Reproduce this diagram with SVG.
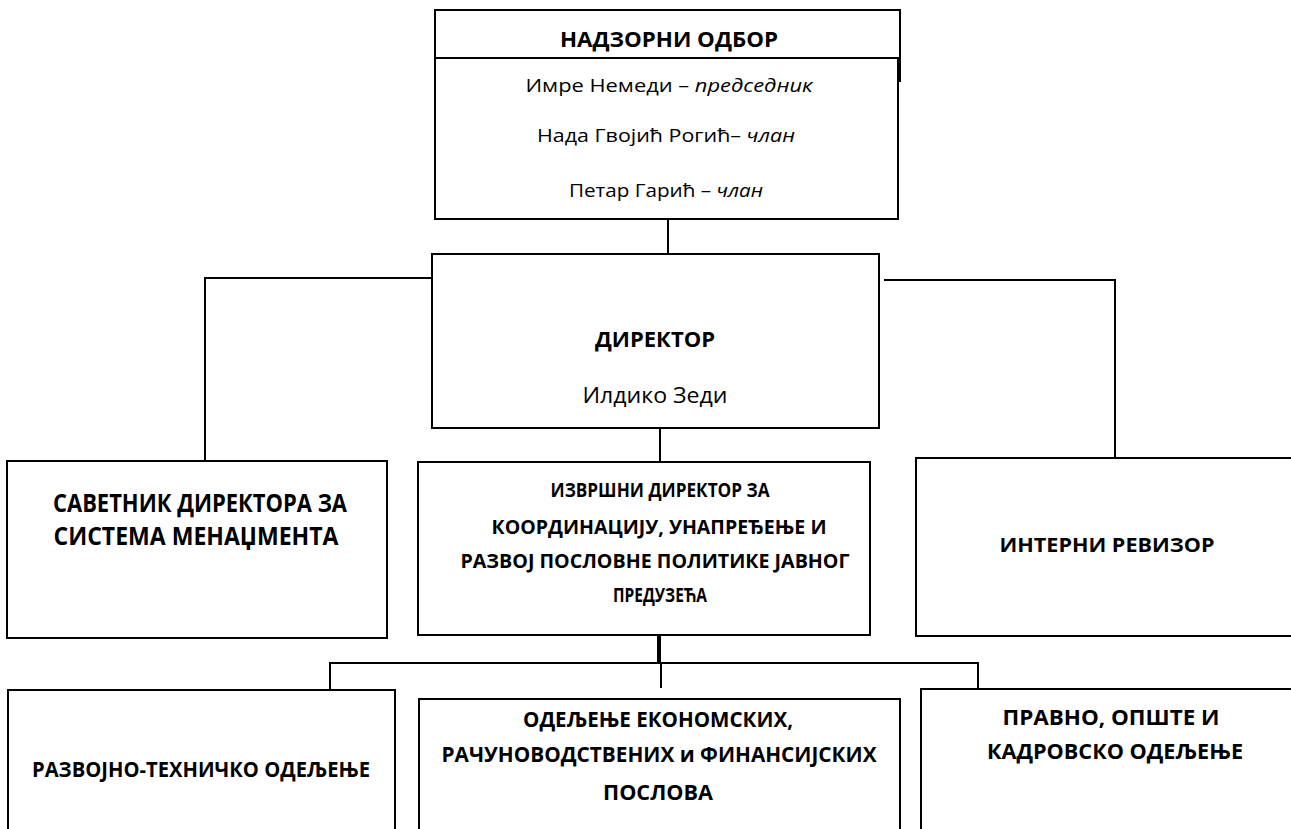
<svg xmlns="http://www.w3.org/2000/svg" width="1291" height="829" viewBox="0 0 1291 829">
<style>
.box{fill:#fff;stroke:#000;stroke-width:2}
.ln{fill:none;stroke:#000;stroke-width:2}
text{font-family:"Open Sans","Noto Sans","DejaVu Sans",sans-serif;fill:#000;text-anchor:middle}
.b{font-weight:bold}
.i{font-style:italic}
</style>
<rect width="1291" height="829" fill="#fff"/>
<g id="connectors">
<line class="ln" x1="668" y1="219" x2="668" y2="254"/>
<polyline class="ln" points="436,278 205,278 205,461"/>
<polyline class="ln" points="884,280 1115,280 1115,458"/>
<line class="ln" x1="660" y1="428" x2="660" y2="462"/>
<line x1="659" y1="636" x2="659" y2="663" stroke="#000" stroke-width="4"/>
<polyline class="ln" points="330,690 330,663 978,663 978,689"/>
<line class="ln" x1="661" y1="663" x2="661" y2="688"/>
</g>
<g id="nadzorni">
<rect class="box" x="435" y="10" width="465" height="48"/>
<line class="ln" x1="900" y1="58" x2="900" y2="82"/>
<rect class="box" x="435" y="58" width="463" height="161"/>
<text class="b" x="669" y="47" font-size="20.5" textLength="218" lengthAdjust="spacingAndGlyphs">НАДЗОРНИ ОДБОР</text>
<text x="669" y="92" font-size="18" textLength="287" lengthAdjust="spacingAndGlyphs">Имре Немеди  – <tspan class="i">председник</tspan></text>
<text x="666" y="142" font-size="18" textLength="258" lengthAdjust="spacingAndGlyphs">Нада Гвојић  Рогић– <tspan class="i">члан</tspan></text>
<text x="666" y="197" font-size="18" textLength="194" lengthAdjust="spacingAndGlyphs">Петар Гарић – <tspan class="i">члан</tspan></text>
</g>
<g id="direktor">
<rect class="box" x="432" y="254" width="447" height="174"/>
<text class="b" x="655" y="347" font-size="20.5" textLength="120" lengthAdjust="spacingAndGlyphs">ДИРЕКТОР</text>
<text x="655" y="403" font-size="21" textLength="145" lengthAdjust="spacingAndGlyphs">Илдико Зеди</text>
</g>
<g id="savetnik">
<rect class="box" x="7" y="461" width="380" height="177"/>
<text class="b" x="200" y="512" font-size="25" textLength="294" lengthAdjust="spacingAndGlyphs">САВЕТНИК ДИРЕКТОРА ЗА</text>
<text class="b" x="196" y="545" font-size="25" textLength="285" lengthAdjust="spacingAndGlyphs">СИСТЕМА МЕНАЏМЕНТА</text>
</g>
<g id="izvrsni">
<rect class="box" x="418" y="462" width="452" height="173"/>
<text class="b" x="660" y="497" font-size="19.5" textLength="219" lengthAdjust="spacingAndGlyphs">ИЗВРШНИ ДИРЕКТОР ЗА</text>
<text class="b" x="659" y="534" font-size="19.5" textLength="335" lengthAdjust="spacingAndGlyphs">КООРДИНАЦИЈУ, УНАПРЕЂЕЊЕ И</text>
<text class="b" x="655" y="568" font-size="19.5" textLength="389" lengthAdjust="spacingAndGlyphs">РАЗВОЈ ПОСЛОВНЕ ПОЛИТИКЕ ЈАВНОГ</text>
<text class="b" x="660" y="602" font-size="19.5" textLength="94" lengthAdjust="spacingAndGlyphs">ПРЕДУЗЕЋА</text>
</g>
<g id="interni">
<rect class="box" x="916" y="458" width="390" height="178"/>
<text class="b" x="1107" y="552" font-size="20" textLength="215" lengthAdjust="spacingAndGlyphs">ИНТЕРНИ РЕВИЗОР</text>
</g>
<g id="razvojno">
<rect class="box" x="8" y="690" width="387" height="150"/>
<text class="b" x="201" y="777" font-size="20.5" textLength="338" lengthAdjust="spacingAndGlyphs">РАЗВОЈНО-ТЕХНИЧКО ОДЕЉЕЊЕ</text>
</g>
<g id="ekonomsko">
<rect class="box" x="419" y="699" width="481" height="141"/>
<text class="b" x="658" y="727" font-size="20.5" textLength="270" lengthAdjust="spacingAndGlyphs">ОДЕЉЕЊЕ ЕКОНОМСКИХ,</text>
<text class="b" x="659" y="762" font-size="20.5" textLength="435" lengthAdjust="spacingAndGlyphs">РАЧУНОВОДСТВЕНИХ и ФИНАНСИЈСКИХ</text>
<text class="b" x="658" y="800" font-size="20.5" textLength="110" lengthAdjust="spacingAndGlyphs">ПОСЛОВА</text>
</g>
<g id="pravno">
<rect class="box" x="921" y="689" width="390" height="151"/>
<text class="b" x="1111" y="725" font-size="20.5" textLength="217" lengthAdjust="spacingAndGlyphs">ПРАВНО, ОПШТЕ И</text>
<text class="b" x="1115" y="759" font-size="20.5" textLength="256" lengthAdjust="spacingAndGlyphs">КАДРОВСКО ОДЕЉЕЊЕ</text>
</g>
</svg>
